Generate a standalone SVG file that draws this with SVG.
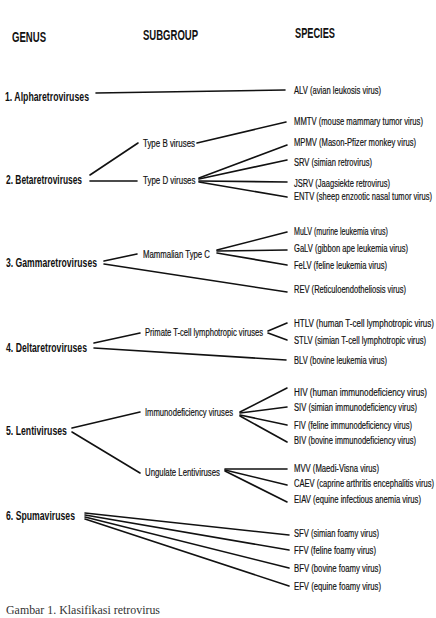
<svg xmlns="http://www.w3.org/2000/svg" width="436" height="618" viewBox="0 0 436 618">
<style>
text{font-family:"Liberation Sans",Arial,sans-serif;fill:#111}
.h{font-size:15.5px;font-weight:bold}
.g{font-size:13.5px;font-weight:bold}
.s{font-size:11px;stroke:#111;stroke-width:0.2}
.sp{font-size:11.5px;stroke:#111;stroke-width:0.2}
.cap{font-family:"Liberation Serif","Times New Roman",serif;font-size:12px;fill:#333}
.ln line{stroke:#111;stroke-width:1.6;stroke-linecap:round}
</style>
<rect width="436" height="618" fill="#fff"/>
<g id="headers">
<text class="h" transform="translate(12 42) scale(0.7 1)" textLength="48.6" lengthAdjust="spacingAndGlyphs">GENUS</text>
<text class="h" transform="translate(143 40) scale(0.7 1)" textLength="78.6" lengthAdjust="spacingAndGlyphs">SUBGROUP</text>
<text class="h" transform="translate(295 38) scale(0.7 1)" textLength="57.1" lengthAdjust="spacingAndGlyphs">SPECIES</text>
</g>
<g class="ln" id="connectors">
<line x1="96" y1="93" x2="285" y2="90"/>
<line x1="90" y1="175" x2="138" y2="143"/>
<line x1="90" y1="181" x2="137" y2="181"/>
<line x1="197" y1="143" x2="286" y2="122"/>
<line x1="199" y1="178" x2="287" y2="145"/>
<line x1="199" y1="179" x2="287" y2="160"/>
<line x1="199" y1="181" x2="287" y2="182"/>
<line x1="199" y1="182" x2="287" y2="197"/>
<line x1="104" y1="261" x2="137" y2="254"/>
<line x1="104" y1="264" x2="287" y2="292"/>
<line x1="217" y1="250" x2="287" y2="232"/>
<line x1="217" y1="251" x2="287" y2="250"/>
<line x1="217" y1="253" x2="287" y2="265"/>
<line x1="94" y1="343" x2="140" y2="333"/>
<line x1="94" y1="348" x2="286" y2="360"/>
<line x1="268" y1="331" x2="287" y2="323"/>
<line x1="268" y1="333" x2="287" y2="340"/>
<line x1="72" y1="428" x2="140" y2="412"/>
<line x1="72" y1="432" x2="140" y2="473"/>
<line x1="240" y1="412" x2="287" y2="388"/>
<line x1="240" y1="413" x2="287" y2="407"/>
<line x1="240" y1="415" x2="287" y2="425"/>
<line x1="240" y1="416" x2="287" y2="442"/>
<line x1="225" y1="469" x2="287" y2="469"/>
<line x1="225" y1="470" x2="287" y2="485"/>
<line x1="225" y1="471" x2="287" y2="502"/>
<line x1="85" y1="513" x2="289" y2="535"/>
<line x1="85" y1="515" x2="289" y2="550"/>
<line x1="85" y1="517" x2="289" y2="568"/>
<line x1="85" y1="519" x2="289" y2="586"/>
</g>
<g id="genus-alpha"><text class="g" transform="translate(5 101) scale(0.7 1)" textLength="120" lengthAdjust="spacingAndGlyphs">1. Alpharetroviruses</text></g>
<g id="genus-beta"><text class="g" transform="translate(6 184) scale(0.7 1)" textLength="108.6" lengthAdjust="spacingAndGlyphs">2. Betaretroviruses</text></g>
<g id="genus-gamma"><text class="g" transform="translate(6 267) scale(0.7 1)" textLength="130" lengthAdjust="spacingAndGlyphs">3. Gammaretroviruses</text></g>
<g id="genus-delta"><text class="g" transform="translate(6 352) scale(0.7 1)" textLength="115.7" lengthAdjust="spacingAndGlyphs">4. Deltaretroviruses</text></g>
<g id="genus-lenti"><text class="g" transform="translate(6 435) scale(0.7 1)" textLength="87.1" lengthAdjust="spacingAndGlyphs">5. Lentiviruses</text></g>
<g id="genus-spuma"><text class="g" transform="translate(6 520) scale(0.7 1)" textLength="98.6" lengthAdjust="spacingAndGlyphs">6. Spumaviruses</text></g>
<g id="sub-typeb"><text class="s" transform="translate(143 147) scale(0.7 1)" textLength="74.3" lengthAdjust="spacingAndGlyphs">Type B viruses</text></g>
<g id="sub-typed"><text class="s" transform="translate(143 184) scale(0.7 1)" textLength="75" lengthAdjust="spacingAndGlyphs">Type D viruses</text></g>
<g id="sub-mammalian"><text class="s" transform="translate(143 258) scale(0.7 1)" textLength="95.7" lengthAdjust="spacingAndGlyphs">Mammalian Type C</text></g>
<g id="sub-primate"><text class="s" transform="translate(145 336) scale(0.7 1)" textLength="168.6" lengthAdjust="spacingAndGlyphs">Primate T-cell lymphotropic viruses</text></g>
<g id="sub-immuno"><text class="s" transform="translate(145 416) scale(0.7 1)" textLength="125.7" lengthAdjust="spacingAndGlyphs">Immunodeficiency viruses</text></g>
<g id="sub-ungulate"><text class="s" transform="translate(145 476) scale(0.7 1)" textLength="107.1" lengthAdjust="spacingAndGlyphs">Ungulate Lentiviruses</text></g>
<g id="sp-alv"><text class="sp" transform="translate(294 94) scale(0.7 1)" textLength="124.3" lengthAdjust="spacingAndGlyphs">ALV (avian leukosis virus)</text></g>
<g id="sp-mmtv"><text class="sp" transform="translate(294 125) scale(0.7 1)" textLength="184.3" lengthAdjust="spacingAndGlyphs">MMTV (mouse mammary tumor virus)</text></g>
<g id="sp-mpmv"><text class="sp" transform="translate(294 146) scale(0.7 1)" textLength="174.3" lengthAdjust="spacingAndGlyphs">MPMV (Mason-Pfizer monkey virus)</text></g>
<g id="sp-srv"><text class="sp" transform="translate(294 166) scale(0.7 1)" textLength="111.4" lengthAdjust="spacingAndGlyphs">SRV (simian retrovirus)</text></g>
<g id="sp-jsrv"><text class="sp" transform="translate(294 187) scale(0.7 1)" textLength="137.1" lengthAdjust="spacingAndGlyphs">JSRV (Jaagsiekte retrovirus)</text></g>
<g id="sp-entv"><text class="sp" transform="translate(294 200) scale(0.66 1)" textLength="209.1" lengthAdjust="spacingAndGlyphs">ENTV (sheep enzootic nasal tumor virus)</text></g>
<g id="sp-mulv"><text class="sp" transform="translate(294 235) scale(0.7 1)" textLength="134" lengthAdjust="spacingAndGlyphs">MuLV (murine leukemia virus)</text></g>
<g id="sp-galv"><text class="sp" transform="translate(294 252) scale(0.7 1)" textLength="162.9" lengthAdjust="spacingAndGlyphs">GaLV (gibbon ape leukemia virus)</text></g>
<g id="sp-felv"><text class="sp" transform="translate(294 269) scale(0.7 1)" textLength="132.9" lengthAdjust="spacingAndGlyphs">FeLV (feline leukemia virus)</text></g>
<g id="sp-rev"><text class="sp" transform="translate(294 293) scale(0.7 1)" textLength="160" lengthAdjust="spacingAndGlyphs">REV (Reticuloendotheliosis virus)</text></g>
<g id="sp-htlv"><text class="sp" transform="translate(294 327) scale(0.7 1)" textLength="200" lengthAdjust="spacingAndGlyphs">HTLV (human T-cell lymphotropic virus)</text></g>
<g id="sp-stlv"><text class="sp" transform="translate(294 344) scale(0.7 1)" textLength="188.6" lengthAdjust="spacingAndGlyphs">STLV (simian T-cell lymphotropic virus)</text></g>
<g id="sp-blv"><text class="sp" transform="translate(294 364) scale(0.7 1)" textLength="132.9" lengthAdjust="spacingAndGlyphs">BLV (bovine leukemia virus)</text></g>
<g id="sp-hiv"><text class="sp" transform="translate(294 396) scale(0.7 1)" textLength="190" lengthAdjust="spacingAndGlyphs">HIV (human immunodeficiency virus)</text></g>
<g id="sp-siv"><text class="sp" transform="translate(294 411) scale(0.7 1)" textLength="175.7" lengthAdjust="spacingAndGlyphs">SIV (simian immunodeficiency virus)</text></g>
<g id="sp-fiv"><text class="sp" transform="translate(294 429) scale(0.7 1)" textLength="168.6" lengthAdjust="spacingAndGlyphs">FIV (feline immunodeficiency virus)</text></g>
<g id="sp-biv"><text class="sp" transform="translate(294 444) scale(0.7 1)" textLength="174.3" lengthAdjust="spacingAndGlyphs">BIV (bovine immunodeficiency virus)</text></g>
<g id="sp-mvv"><text class="sp" transform="translate(294 472) scale(0.7 1)" textLength="121.4" lengthAdjust="spacingAndGlyphs">MVV (Maedi-Visna virus)</text></g>
<g id="sp-caev"><text class="sp" transform="translate(294 487) scale(0.66 1)" textLength="212.1" lengthAdjust="spacingAndGlyphs">CAEV (caprine arthritis encephalitis virus)</text></g>
<g id="sp-eiav"><text class="sp" transform="translate(294 503) scale(0.7 1)" textLength="181.4" lengthAdjust="spacingAndGlyphs">EIAV (equine infectious anemia virus)</text></g>
<g id="sp-sfv"><text class="sp" transform="translate(294 537) scale(0.7 1)" textLength="121.4" lengthAdjust="spacingAndGlyphs">SFV (simian foamy virus)</text></g>
<g id="sp-ffv"><text class="sp" transform="translate(294 554) scale(0.7 1)" textLength="117.1" lengthAdjust="spacingAndGlyphs">FFV (feline foamy virus)</text></g>
<g id="sp-bfv"><text class="sp" transform="translate(294 572) scale(0.7 1)" textLength="124.3" lengthAdjust="spacingAndGlyphs">BFV (bovine foamy virus)</text></g>
<g id="sp-efv"><text class="sp" transform="translate(294 590) scale(0.7 1)" textLength="124.3" lengthAdjust="spacingAndGlyphs">EFV (equine foamy virus)</text></g>
<g id="caption"><text class="cap" x="6" y="614" textLength="154" lengthAdjust="spacingAndGlyphs">Gambar 1. Klasifikasi retrovirus</text></g>
</svg>
